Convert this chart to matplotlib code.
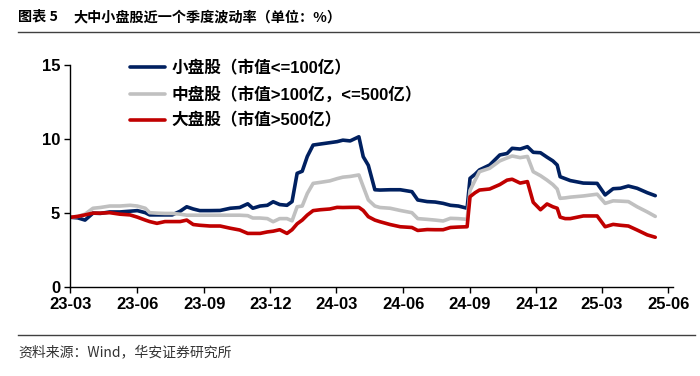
import matplotlib
matplotlib.use('Agg')
import matplotlib.pyplot as plt
import matplotlib.dates as mdates
from matplotlib.lines import Line2D
import pandas as pd

dates = [
    '2023-03-01', '2023-03-11', '2023-03-21', '2023-04-01', '2023-04-11', '2023-04-24',
    '2023-05-08', '2023-05-22', '2023-06-01', '2023-06-12', '2023-06-18', '2023-06-28',
    '2023-07-09', '2023-07-19', '2023-07-30', '2023-08-08', '2023-08-17', '2023-08-26',
    '2023-09-09', '2023-09-23', '2023-10-07', '2023-10-20', '2023-10-31', '2023-11-07',
    '2023-11-17', '2023-11-27', '2023-12-05', '2023-12-14', '2023-12-24', '2023-12-31',
    '2024-01-07', '2024-01-14', '2024-01-21', '2024-01-29', '2024-02-08', '2024-02-21',
    '2024-03-02', '2024-03-10', '2024-03-20', '2024-04-01', '2024-04-07', '2024-04-14',
    '2024-04-23', '2024-04-30', '2024-05-14', '2024-05-28', '2024-06-13', '2024-06-21',
    '2024-07-04', '2024-07-15', '2024-07-26', '2024-08-05', '2024-08-16', '2024-08-28',
    '2024-09-01', '2024-09-08', '2024-09-14', '2024-09-28', '2024-10-12', '2024-10-22',
    '2024-10-29', '2024-11-09', '2024-11-19', '2024-11-27', '2024-12-07', '2024-12-16',
    '2024-12-24', '2024-12-30', '2025-01-03', '2025-01-10', '2025-01-17', '2025-02-04',
    '2025-02-23', '2025-03-06', '2025-03-17', '2025-03-27', '2025-04-07', '2025-04-19',
    '2025-05-03', '2025-05-14',
]

small_cap = [
    4.69, 4.65, 4.50, 4.97, 4.95, 5.05, 5.05, 5.10, 5.14, 5.00, 4.85, 4.85,
    4.85, 4.85, 5.10, 5.40, 5.25, 5.14, 5.14, 5.15, 5.30, 5.35, 5.60, 5.30,
    5.45, 5.50, 5.74, 5.55, 5.50, 5.75, 7.66, 7.80, 8.80, 9.57, 9.64, 9.73,
    9.80, 9.90, 9.85, 10.13, 8.78, 8.20, 6.55, 6.53, 6.55, 6.55, 6.42, 5.86,
    5.75, 5.72, 5.63, 5.50, 5.45, 5.30, 7.32, 7.60, 7.89, 8.22, 8.90, 9.00,
    9.35, 9.30, 9.46, 9.08, 9.05, 8.75, 8.50, 8.22, 7.43, 7.30, 7.17, 7.00,
    6.98, 6.20, 6.62, 6.65, 6.80, 6.65, 6.35, 6.15,
]

mid_cap = [
    4.69, 4.75, 4.90, 5.30, 5.35, 5.45, 5.45, 5.50, 5.45, 5.30, 5.00, 4.97,
    4.95, 4.95, 4.90, 4.83, 4.83, 4.83, 4.83, 4.83, 4.83, 4.83, 4.80, 4.64,
    4.64, 4.60, 4.39, 4.60, 4.60, 4.45, 5.40, 5.45, 6.30, 6.98, 7.05, 7.15,
    7.30, 7.40, 7.45, 7.55, 6.76, 5.86, 5.45, 5.35, 5.30, 5.15, 5.00, 4.60,
    4.55, 4.50, 4.44, 4.62, 4.60, 4.55, 6.50, 7.20, 7.77, 8.00, 8.50, 8.70,
    8.83, 8.72, 8.80, 7.77, 7.50, 7.20, 6.90, 6.60, 5.97, 6.00, 6.05, 6.13,
    6.25, 5.63, 5.80, 5.78, 5.75, 5.40, 5.05, 4.75,
]

large_cap = [
    4.69, 4.75, 4.85, 4.97, 4.97, 5.00, 4.90, 4.85, 4.70, 4.50, 4.40, 4.28,
    4.40, 4.40, 4.40, 4.50, 4.20, 4.15, 4.10, 4.10, 3.95, 3.83, 3.60, 3.60,
    3.60, 3.70, 3.75, 3.85, 3.60, 3.85, 4.25, 4.50, 4.84, 5.14, 5.20, 5.25,
    5.36, 5.35, 5.36, 5.36, 5.15, 4.73, 4.50, 4.39, 4.20, 4.05, 4.00, 3.80,
    3.86, 3.85, 3.85, 4.00, 4.03, 4.05, 6.08, 6.35, 6.53, 6.60, 6.90, 7.20,
    7.26, 7.00, 7.10, 5.70, 5.20, 5.59, 5.40, 5.30, 4.70, 4.60, 4.60, 4.78,
    4.78, 4.05, 4.21, 4.15, 4.10, 3.83, 3.50, 3.34,
]

series_labels = ['小盘股（市值<=100亿）', '中盘股（市值>100亿，<=500亿）', '大盘股（市值>500亿）']
series_colors = ['#002060', '#C0C0C0', '#C00000']
tick_dates = ['2023-03-01', '2023-06-01', '2023-09-01', '2023-12-01', '2024-03-01',
              '2024-06-01', '2024-09-01', '2024-12-01', '2025-03-01', '2025-06-01']
tick_labels = ['23-03', '23-06', '23-09', '23-12', '24-03',
               '24-06', '24-09', '24-12', '25-03', '25-06']
y_ticks = [0, 5, 10, 15]

title_label = '图表 5'
title_text = '大中小盘股近一个季度波动率（单位：%）'
source_text = '资料来源：Wind，华安证券研究所'

cjk = ['Noto Sans CJK SC', 'DejaVu Sans']
mixed = ['Liberation Sans', 'Noto Sans CJK SC', 'DejaVu Sans']
plt.rcParams['font.family'] = mixed

x = pd.to_datetime(dates)

fig = plt.figure(figsize=(7, 3.76), dpi=100)
ax = fig.add_axes([0.1007, 0.2375, 0.8603, 0.5905])

for vals, lab, col in zip([small_cap, mid_cap, large_cap], series_labels, series_colors):
    ax.plot(x, vals, color=col, lw=2.6, label=lab, solid_joinstyle='round', solid_capstyle='round')

ax.set_ylim(0, 15)
ax.set_yticks(y_ticks)
ax.set_xlim(pd.Timestamp('2023-03-01'), pd.Timestamp('2025-06-07'))
ax.set_xticks(pd.to_datetime(tick_dates))
ax.set_xticklabels(tick_labels)

for s in ['top', 'right']:
    ax.spines[s].set_visible(False)
for s in ['left', 'bottom']:
    ax.spines[s].set_linewidth(1.0)
    ax.spines[s].set_color('black')

ax.tick_params(axis='both', direction='out', length=4.5, width=1.0, labelsize=12, pad=3)
for lbl in ax.get_xticklabels() + ax.get_yticklabels():
    lbl.set_fontweight('bold')
    lbl.set_family(mixed)

leg = ax.legend(loc='upper left', bbox_to_anchor=(0.0988, 1.020), frameon=False,
                borderpad=0, borderaxespad=0,
                handlelength=2.1, handletextpad=0.4, labelspacing=0.58,
                prop={'family': mixed, 'weight': 'bold', 'size': 12})

fig.text(18 / 700, 1 - 17 / 376, title_label, family=cjk, fontweight='bold', fontsize=10.2,
         va='center', ha='left', color='black')
fig.text(73 / 700, 1 - 17 / 376, title_text, family=cjk, fontweight='bold', fontsize=10.2,
         va='center', ha='left', color='black')
fig.add_artist(Line2D([18 / 700, 1.0], [1 - 32 / 376, 1 - 32 / 376], color='#404040', lw=1.0))
fig.add_artist(Line2D([18 / 700, 695 / 700], [1 - 335 / 376, 1 - 335 / 376], color='#404040', lw=1.0))
fig.text(18 / 700, 1 - 352 / 376, source_text, family=cjk, fontsize=10,
         va='center', ha='left', color='#333333')

fig.savefig('out.png', dpi=100)
